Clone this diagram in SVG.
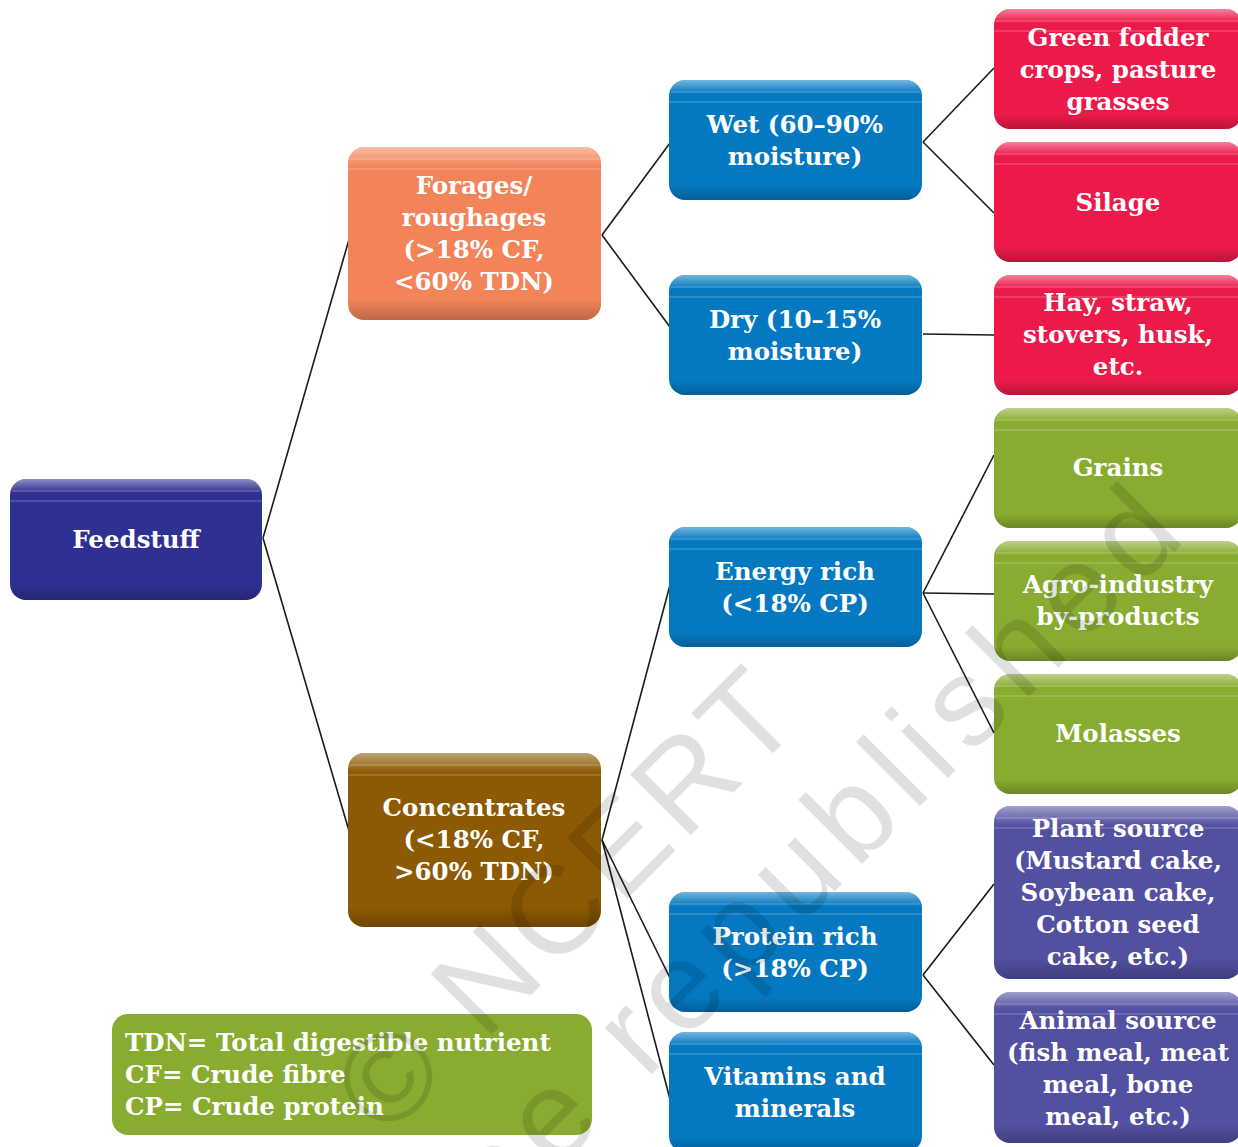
<svg xmlns="http://www.w3.org/2000/svg" width="1238" height="1147" viewBox="0 0 1238 1147">
<style>
.t{font-family:"DejaVu Serif","Liberation Serif",serif;font-weight:bold;font-size:24.5px;fill:#fff;text-anchor:middle}
.lg{text-anchor:start}
.sh{fill:url(#hl)}
.ln{stroke:#fff;stroke-opacity:.3;stroke-width:1}
.c line{stroke:#1a1a1a;stroke-width:1.6}
.wm{font-family:"Liberation Sans",Arial,sans-serif;font-size:125px;fill:#000;fill-opacity:.12}
.db{fill:#2E3192}.or{fill:#F3845A}.bl{fill:#0479C1}.br{fill:#8C5A02}.rd{fill:#EC1A4A}.gr{fill:#88AC30}.pu{fill:#5250A0}
</style>
<defs>
<linearGradient id="hl" x1="0" y1="0" x2="0" y2="1">
<stop offset="0" stop-color="#fff" stop-opacity=".45"/>
<stop offset=".1" stop-color="#fff" stop-opacity=".05"/>
<stop offset=".12" stop-color="#fff" stop-opacity="0"/>
<stop offset=".88" stop-color="#000" stop-opacity="0"/>
<stop offset="1" stop-color="#000" stop-opacity=".22"/>
</linearGradient>
</defs>
<rect width="1238" height="1147" fill="#fff"/>
<g id="connectors" class="c">
<line x1="263" y1="538" x2="350" y2="236"/>
<line x1="263" y1="538" x2="352" y2="841"/>
<line x1="602" y1="235" x2="670" y2="143"/>
<line x1="602" y1="235" x2="670" y2="327"/>
<line x1="923" y1="142" x2="994" y2="68"/>
<line x1="923" y1="142" x2="994" y2="213"/>
<line x1="923" y1="334" x2="994" y2="335"/>
<line x1="923" y1="593" x2="994" y2="455"/>
<line x1="923" y1="593" x2="994" y2="594"/>
<line x1="923" y1="593" x2="994" y2="733"/>
<line x1="602" y1="840" x2="670" y2="585"/>
<line x1="602" y1="840" x2="670" y2="978"/>
<line x1="602" y1="840" x2="671" y2="1103"/>
<line x1="923" y1="975" x2="994" y2="884"/>
<line x1="923" y1="975" x2="994" y2="1065"/>
</g>
<g id="feedstuff">
<rect class="db" x="10" y="479" width="252" height="121" rx="16"/>
<rect class="sh" x="10" y="479" width="252" height="121" rx="16"/>
<line class="ln" x1="12" y1="491" x2="260" y2="491"/><line class="ln" x1="10" y1="501" x2="262" y2="501"/>
<text class="t" x="136" y="548">Feedstuff</text>
</g>
<g id="forages">
<rect class="or" x="348" y="147" width="253" height="173" rx="16"/>
<rect class="sh" x="348" y="147" width="253" height="173" rx="16"/>
<line class="ln" x1="350" y1="159" x2="599" y2="159"/><line class="ln" x1="348" y1="169" x2="601" y2="169"/>
<text class="t" x="474" y="194">Forages/</text>
<text class="t" x="474" y="226">roughages</text>
<text class="t" x="474" y="258">(&gt;18% CF,</text>
<text class="t" x="474" y="290">&lt;60% TDN)</text>
</g>
<g id="concentrates">
<rect class="br" x="348" y="753" width="253" height="174" rx="16"/>
<rect class="sh" x="348" y="753" width="253" height="174" rx="16"/>
<line class="ln" x1="350" y1="765" x2="599" y2="765"/><line class="ln" x1="348" y1="775" x2="601" y2="775"/>
<text class="t" x="474" y="816">Concentrates</text>
<text class="t" x="474" y="848">(&lt;18% CF,</text>
<text class="t" x="474" y="880">&gt;60% TDN)</text>
</g>
<g id="wet">
<rect class="bl" x="669" y="80" width="253" height="120" rx="16"/>
<rect class="sh" x="669" y="80" width="253" height="120" rx="16"/>
<line class="ln" x1="671" y1="92" x2="920" y2="92"/><line class="ln" x1="669" y1="102" x2="922" y2="102"/>
<text class="t" x="795" y="133">Wet (60–90%</text>
<text class="t" x="795" y="165">moisture)</text>
</g>
<g id="dry">
<rect class="bl" x="669" y="275" width="253" height="120" rx="16"/>
<rect class="sh" x="669" y="275" width="253" height="120" rx="16"/>
<line class="ln" x1="671" y1="287" x2="920" y2="287"/><line class="ln" x1="669" y1="297" x2="922" y2="297"/>
<text class="t" x="795" y="328">Dry (10–15%</text>
<text class="t" x="795" y="360">moisture)</text>
</g>
<g id="energy">
<rect class="bl" x="669" y="527" width="253" height="120" rx="16"/>
<rect class="sh" x="669" y="527" width="253" height="120" rx="16"/>
<line class="ln" x1="671" y1="539" x2="920" y2="539"/><line class="ln" x1="669" y1="549" x2="922" y2="549"/>
<text class="t" x="795" y="580">Energy rich</text>
<text class="t" x="795" y="612">(&lt;18% CP)</text>
</g>
<g id="protein">
<rect class="bl" x="669" y="892" width="253" height="120" rx="16"/>
<rect class="sh" x="669" y="892" width="253" height="120" rx="16"/>
<line class="ln" x1="671" y1="904" x2="920" y2="904"/><line class="ln" x1="669" y1="914" x2="922" y2="914"/>
<text class="t" x="795" y="945">Protein rich</text>
<text class="t" x="795" y="977">(&gt;18% CP)</text>
</g>
<g id="vitamins">
<rect class="bl" x="669" y="1032" width="253" height="120" rx="16"/>
<rect class="sh" x="669" y="1032" width="253" height="120" rx="16"/>
<line class="ln" x1="671" y1="1044" x2="920" y2="1044"/><line class="ln" x1="669" y1="1054" x2="922" y2="1054"/>
<text class="t" x="795" y="1085">Vitamins and</text>
<text class="t" x="795" y="1117">minerals</text>
</g>
<g id="green-fodder">
<rect class="rd" x="994" y="9" width="248" height="120" rx="16"/>
<rect class="sh" x="994" y="9" width="248" height="120" rx="16"/>
<line class="ln" x1="996" y1="21" x2="1238" y2="21"/><line class="ln" x1="994" y1="31" x2="1238" y2="31"/>
<text class="t" x="1118" y="46">Green fodder</text>
<text class="t" x="1118" y="78">crops, pasture</text>
<text class="t" x="1118" y="110">grasses</text>
</g>
<g id="silage">
<rect class="rd" x="994" y="142" width="248" height="120" rx="16"/>
<rect class="sh" x="994" y="142" width="248" height="120" rx="16"/>
<line class="ln" x1="996" y1="154" x2="1238" y2="154"/><line class="ln" x1="994" y1="164" x2="1238" y2="164"/>
<text class="t" x="1118" y="211">Silage</text>
</g>
<g id="hay">
<rect class="rd" x="994" y="275" width="248" height="120" rx="16"/>
<rect class="sh" x="994" y="275" width="248" height="120" rx="16"/>
<line class="ln" x1="996" y1="287" x2="1238" y2="287"/><line class="ln" x1="994" y1="297" x2="1238" y2="297"/>
<text class="t" x="1118" y="311">Hay, straw,</text>
<text class="t" x="1118" y="343">stovers, husk,</text>
<text class="t" x="1118" y="375">etc.</text>
</g>
<g id="grains">
<rect class="gr" x="994" y="408" width="248" height="120" rx="16"/>
<rect class="sh" x="994" y="408" width="248" height="120" rx="16"/>
<line class="ln" x1="996" y1="420" x2="1238" y2="420"/><line class="ln" x1="994" y1="430" x2="1238" y2="430"/>
<text class="t" x="1118" y="476">Grains</text>
</g>
<g id="agro">
<rect class="gr" x="994" y="541" width="248" height="120" rx="16"/>
<rect class="sh" x="994" y="541" width="248" height="120" rx="16"/>
<line class="ln" x1="996" y1="553" x2="1238" y2="553"/><line class="ln" x1="994" y1="563" x2="1238" y2="563"/>
<text class="t" x="1118" y="593">Agro-industry</text>
<text class="t" x="1118" y="625">by-products</text>
</g>
<g id="molasses">
<rect class="gr" x="994" y="674" width="248" height="120" rx="16"/>
<rect class="sh" x="994" y="674" width="248" height="120" rx="16"/>
<line class="ln" x1="996" y1="686" x2="1238" y2="686"/><line class="ln" x1="994" y1="696" x2="1238" y2="696"/>
<text class="t" x="1118" y="742">Molasses</text>
</g>
<g id="plant-source">
<rect class="pu" x="994" y="806" width="248" height="173" rx="16"/>
<rect class="sh" x="994" y="806" width="248" height="173" rx="16"/>
<line class="ln" x1="996" y1="818" x2="1238" y2="818"/><line class="ln" x1="994" y1="828" x2="1238" y2="828"/>
<text class="t" x="1118" y="837">Plant source</text>
<text class="t" x="1118" y="869">(Mustard cake,</text>
<text class="t" x="1118" y="901">Soybean cake,</text>
<text class="t" x="1118" y="933">Cotton seed</text>
<text class="t" x="1118" y="965">cake, etc.)</text>
</g>
<g id="animal-source">
<rect class="pu" x="994" y="992" width="248" height="151" rx="16"/>
<rect class="sh" x="994" y="992" width="248" height="151" rx="16"/>
<line class="ln" x1="996" y1="1004" x2="1238" y2="1004"/><line class="ln" x1="994" y1="1014" x2="1238" y2="1014"/>
<text class="t" x="1118" y="1029">Animal source</text>
<text class="t" x="1118" y="1061">(fish meal, meat</text>
<text class="t" x="1118" y="1093">meal, bone</text>
<text class="t" x="1118" y="1125">meal, etc.)</text>
</g>
<g id="legend">
<rect class="gr" x="112" y="1014" width="480" height="121" rx="16"/>
<text class="t lg" x="125" y="1051">TDN= Total digestible nutrient</text>
<text class="t lg" x="125" y="1083">CF= Crude fibre</text>
<text class="t lg" x="125" y="1115">CP= Crude protein</text>
</g>
<g id="watermark">
<text class="wm" transform="translate(386,1140) rotate(-45)" letter-spacing="6">© NCERT</text>
<text class="wm" transform="translate(192,1534) rotate(-45)" letter-spacing="12">not to be republished</text>
</g>
</svg>
